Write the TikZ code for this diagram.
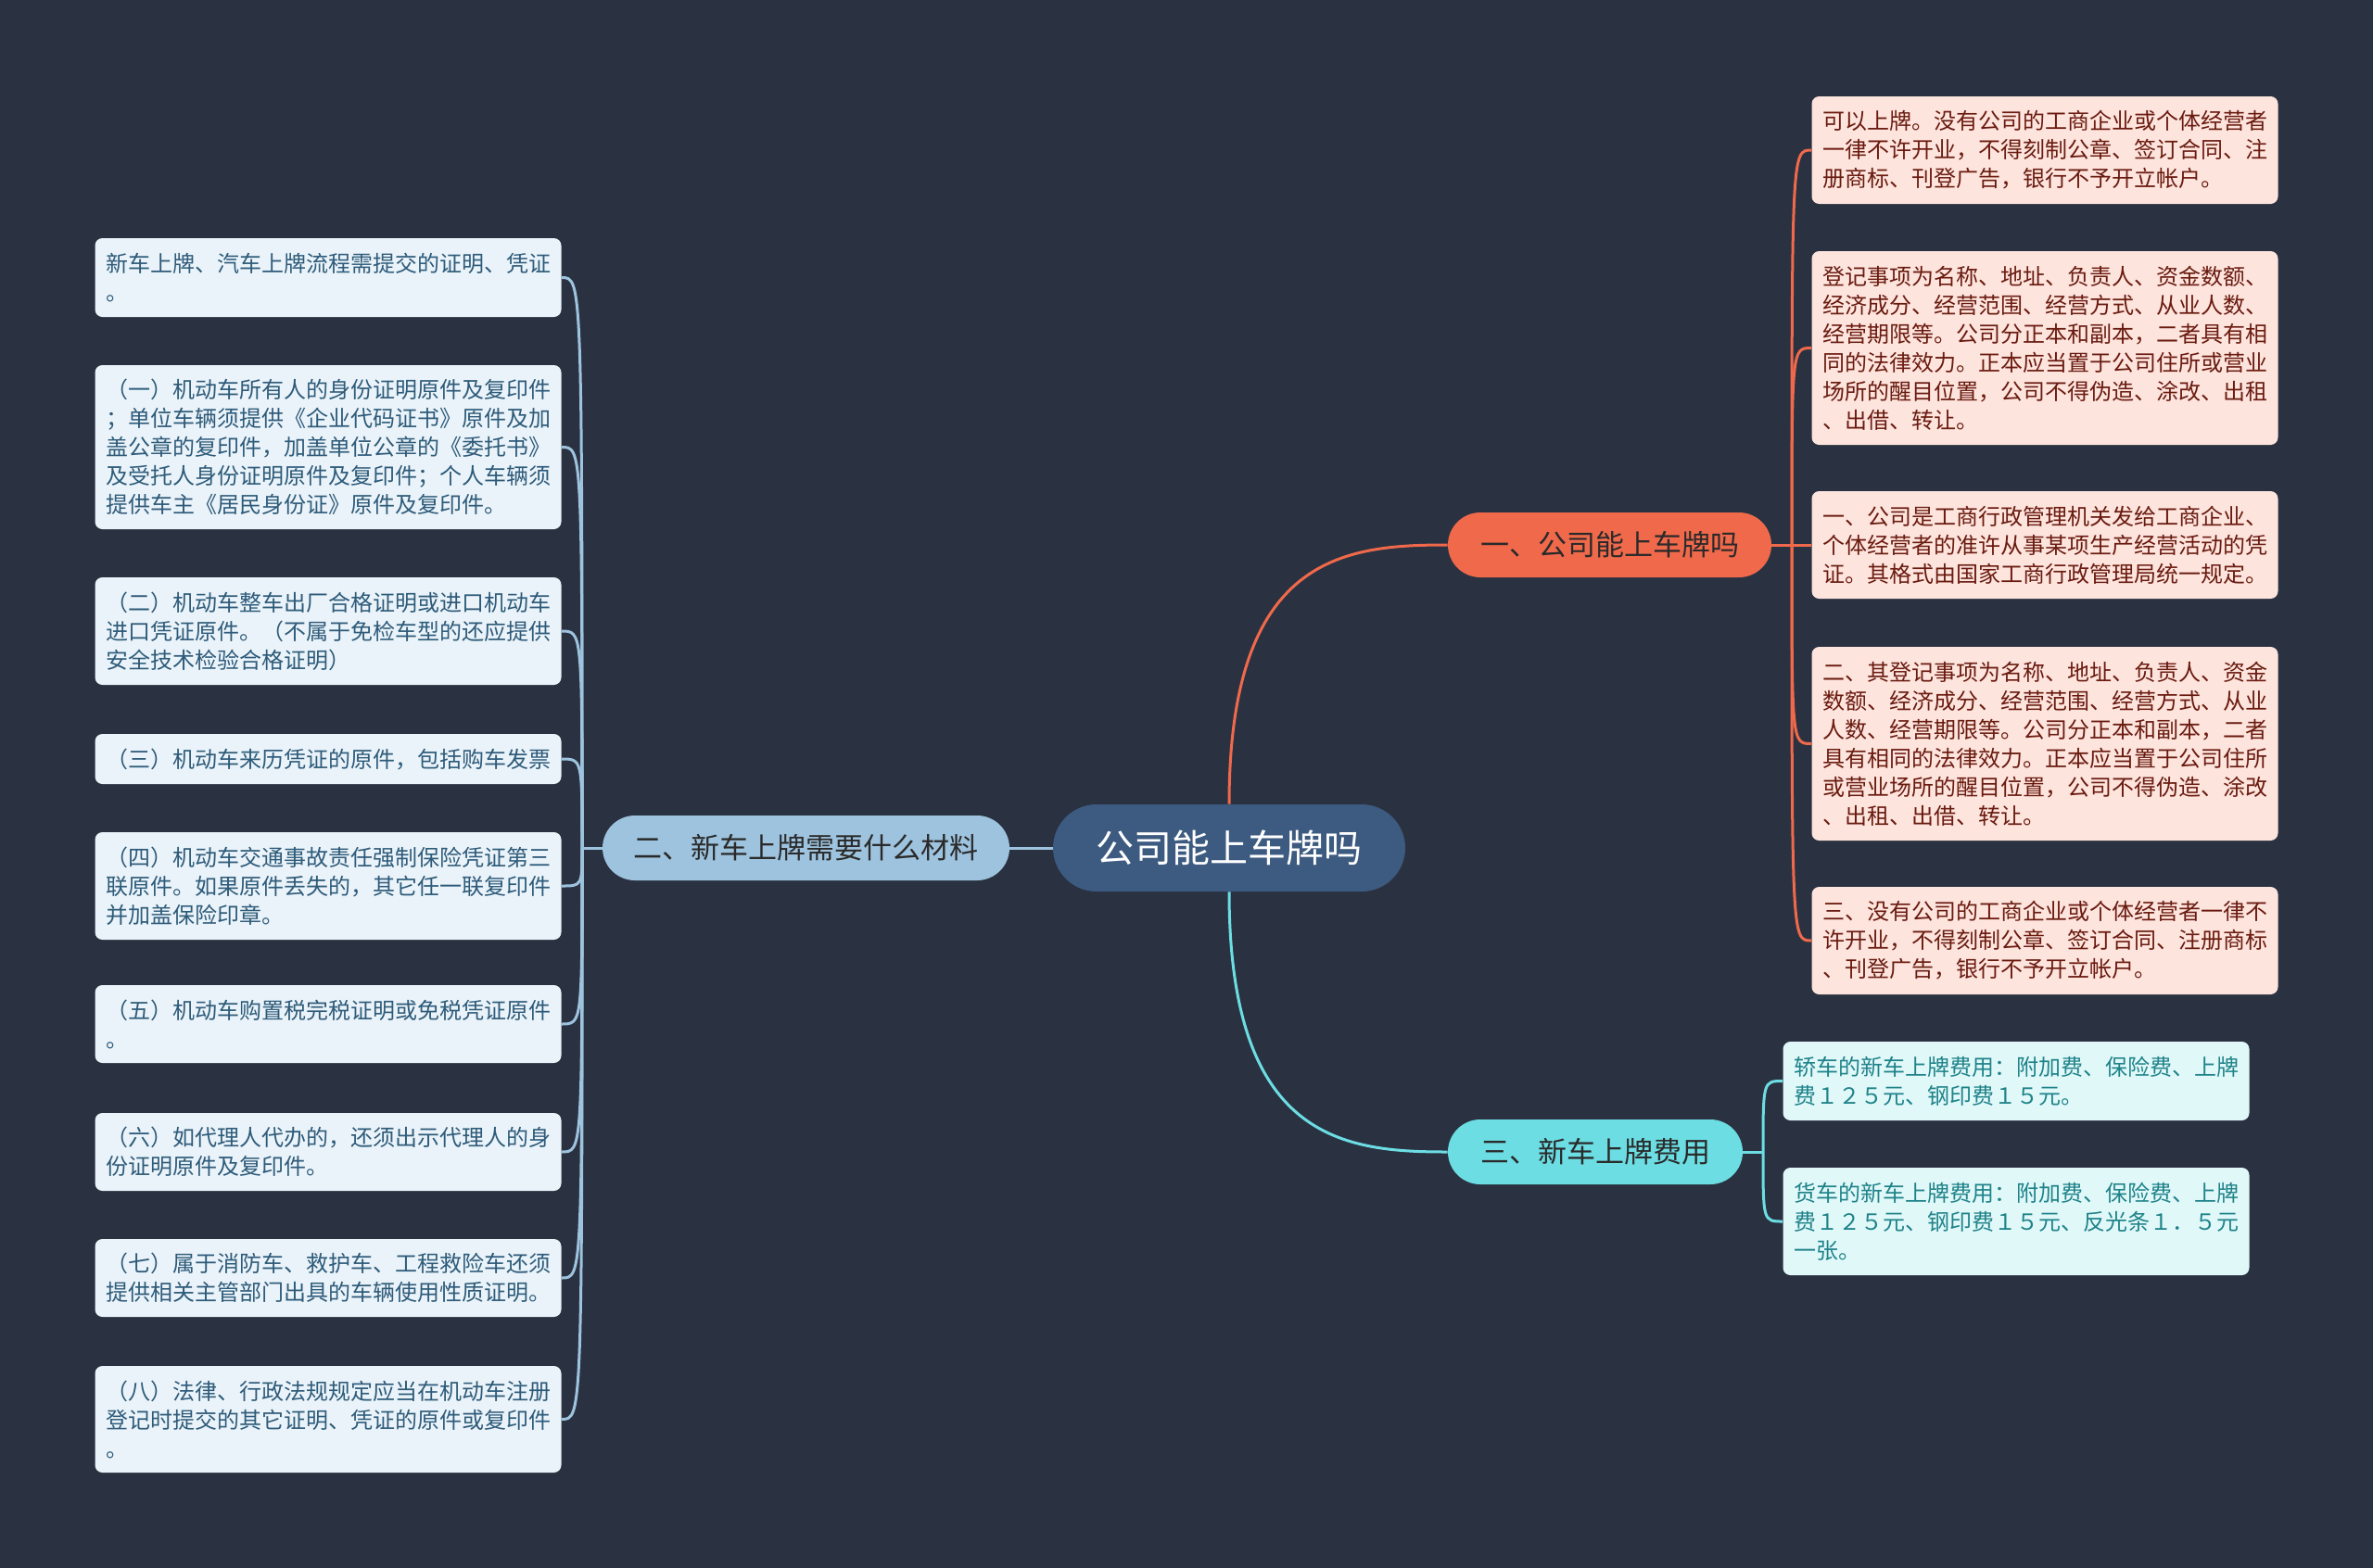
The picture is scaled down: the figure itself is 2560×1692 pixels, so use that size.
\documentclass[tikz,border=0pt]{standalone}
\usepackage{fontspec}
\setmainfont{Noto Sans CJK SC}
\definecolor{bg}{HTML}{2A3241}
\definecolor{cfill}{HTML}{3D5A80}
\definecolor{ofill}{HTML}{F0694B}
\definecolor{bfill}{HTML}{9EC3DE}
\definecolor{tfill}{HTML}{6CDDE3}
\definecolor{lfill}{HTML}{EAF3F9}
\definecolor{ltext}{HTML}{2E5B7A}
\definecolor{rfill}{HTML}{FDE4DD}
\definecolor{rtext}{HTML}{6A1B10}
\definecolor{qfill}{HTML}{E1F8F9}
\definecolor{qtext}{HTML}{1E8389}
\definecolor{btext}{HTML}{2A2A2A}
\tikzset{
  leafbase/.style={rounded corners=4pt, inner xsep=5.75pt, inner ysep=0pt, text width=240pt, align=left, font=\fontsize{12}{15.5}\selectfont},
  leafL/.style={leafbase, fill=lfill, text=ltext},
  leafR/.style={leafbase, fill=rfill, text=rtext},
  leafQ/.style={leafbase, fill=qfill, text=qtext},
  branchbox/.style={rounded corners=17.5pt, minimum height=35pt, inner sep=0pt, text=btext, font=\fontsize{15.5}{18}\selectfont},
  centerbox/.style={rounded corners=23.5pt, minimum height=47pt, minimum width=190pt, inner sep=0pt, fill=cfill, text=white, font=\fontsize{20.5}{24}\selectfont},
  oline/.style={draw=ofill, line width=1.5pt},
  bline/.style={draw=bfill, line width=1.5pt},
  tline/.style={draw=tfill, line width=1.5pt},
}
\begin{document}
\begin{tikzpicture}[x=0.5pt,y=-0.5pt]
\fill[bg] (0,0) rectangle (2560,1692);
\useasboundingbox (0,0) rectangle (2560,1692);

% central and main branches
\node[centerbox] (c) at (1326,915) {公司能上车牌吗};
\node[branchbox, fill=ofill, minimum width=174.5pt] (b1) at (1736.5,588) {一、公司能上车牌吗};
\node[branchbox, fill=bfill, minimum width=219.5pt] (b2) at (869.5,915) {二、新车上牌需要什么材料};
\node[branchbox, fill=tfill, minimum width=159pt] (b3) at (1721,1243) {三、新车上牌费用};

% left leaves
\node[leafL, minimum height=42.5pt] (l1) at (354,299.5) {新车上牌、汽车上牌流程需提交的证明、凭证\\。};
\node[leafL, minimum height=88.5pt] (l2) at (354,482.5) {（一）机动车所有人的身份证明原件及复印件\\；单位车辆须提供《企业代码证书》原件及加\\盖公章的复印件，加盖单位公章的《委托书》\\及受托人身份证明原件及复印件；个人车辆须\\提供车主《居民身份证》原件及复印件。};
\node[leafL, minimum height=58pt] (l3) at (354,681) {（二）机动车整车出厂合格证明或进口机动车\\进口凭证原件。（不属于免检车型的还应提供\\安全技术检验合格证明）};
\node[leafL, minimum height=27pt] (l4) at (354,819) {（三）机动车来历凭证的原件，包括购车发票};
\node[leafL, minimum height=58pt] (l5) at (354,956) {（四）机动车交通事故责任强制保险凭证第三\\联原件。如果原件丢失的，其它任一联复印件\\并加盖保险印章。};
\node[leafL, minimum height=42pt] (l6) at (354,1105) {（五）机动车购置税完税证明或免税凭证原件\\。};
\node[leafL, minimum height=42pt] (l7) at (354,1243) {（六）如代理人代办的，还须出示代理人的身\\份证明原件及复印件。};
\node[leafL, minimum height=42pt] (l8) at (354,1379) {（七）属于消防车、救护车、工程救险车还须\\提供相关主管部门出具的车辆使用性质证明。};
\node[leafL, minimum height=57.5pt] (l9) at (354,1531.5) {（八）法律、行政法规规定应当在机动车注册\\登记时提交的其它证明、凭证的原件或复印件\\。};

% right (orange) leaves
\node[leafR, minimum height=58pt] (r1) at (2206,162) {可以上牌。没有公司的工商企业或个体经营者\\一律不许开业，不得刻制公章、签订合同、注\\册商标、刊登广告，银行不予开立帐户。};
\node[leafR, minimum height=104.5pt] (r2) at (2206,375.5) {登记事项为名称、地址、负责人、资金数额、\\经济成分、经营范围、经营方式、从业人数、\\经营期限等。公司分正本和副本，二者具有相\\同的法律效力。正本应当置于公司住所或营业\\场所的醒目位置，公司不得伪造、涂改、出租\\、出借、转让。};
\node[leafR, minimum height=58pt] (r3) at (2206,588) {一、公司是工商行政管理机关发给工商企业、\\个体经营者的准许从事某项生产经营活动的凭\\证。其格式由国家工商行政管理局统一规定。};
\node[leafR, minimum height=104.5pt] (r4) at (2206,802.5) {二、其登记事项为名称、地址、负责人、资金\\数额、经济成分、经营范围、经营方式、从业\\人数、经营期限等。公司分正本和副本，二者\\具有相同的法律效力。正本应当置于公司住所\\或营业场所的醒目位置，公司不得伪造、涂改\\、出租、出借、转让。};
\node[leafR, minimum height=58pt] (r5) at (2206,1015) {三、没有公司的工商企业或个体经营者一律不\\许开业，不得刻制公章、签订合同、注册商标\\、刊登广告，银行不予开立帐户。};

% cyan leaves
\node[leafQ, minimum height=42.5pt] (q1) at (2175,1166.5) {轿车的新车上牌费用：附加费、保险费、上牌\\费１２５元、钢印费１５元。};
\node[leafQ, minimum height=58pt] (q2) at (2175,1318) {货车的新车上牌费用：附加费、保险费、上牌\\费１２５元、钢印费１５元、反光条１．５元\\一张。};

% junctions
\coordinate (jR) at (1933,588);
\coordinate (jL) at (628,915);
\coordinate (jC) at (1902,1243);

% connectors centre -> branches
\draw[oline] (c.north) .. controls +(0,-268) and +(-112,0) .. (b1.west);
\draw[tline] (c.south) .. controls +(0,268) and +(-112,0) .. (b3.west);
\draw[bline] (c.west) -- (b2.east);

% branch -> junction
\draw[oline] (b1.east) -- (jR);
\draw[bline] (b2.west) -- (jL);
\draw[tline] (b3.east) -- (jC);

% junction -> leaves
\foreach \n in {r1,r2,r3,r4,r5}{
  \draw[oline] (jR) .. controls (jR |- \n.west) .. (\n.west);
}
\foreach \n in {l1,l2,l3,l4,l5,l6,l7,l8,l9}{
  \draw[bline] (jL) .. controls (jL |- \n.east) .. (\n.east);
}
\foreach \n in {q1,q2}{
  \draw[tline] (jC) .. controls (jC |- \n.west) .. (\n.west);
}
\end{tikzpicture}
\end{document}
